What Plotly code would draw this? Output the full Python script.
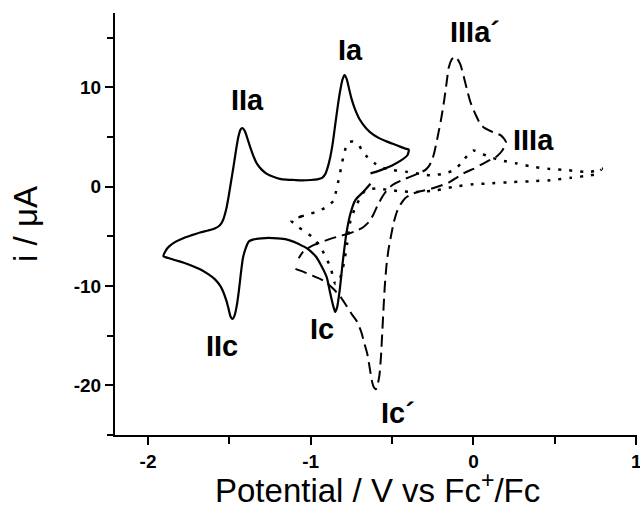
import plotly.graph_objects as go

# Solid CV (sweep starts at -0.63 V going negative)
solid_x = [-0.633, -0.676, -0.726, -0.756, -0.781, -0.802, -0.822, -0.839, -0.850, -0.862, -0.882, -0.900,
           -0.915, -0.940, -0.965, -1.000, -1.028, -1.070, -1.103, -1.150, -1.204, -1.260, -1.304, -1.350,
           -1.380, -1.400, -1.417, -1.430, -1.442, -1.455, -1.467, -1.480, -1.492, -1.505, -1.518, -1.540,
           -1.555, -1.590, -1.630, -1.680, -1.731, -1.780, -1.832, -1.870, -1.905,
           -1.890, -1.870, -1.832, -1.780, -1.731, -1.680, -1.630, -1.590, -1.560, -1.540, -1.520, -1.505,
           -1.490, -1.475, -1.460, -1.445, -1.432, -1.420, -1.405, -1.390, -1.370, -1.350, -1.330, -1.300,
           -1.270, -1.230, -1.190, -1.150, -1.100, -1.053, -1.000, -0.960, -0.930, -0.910, -0.895, -0.880,
           -0.864, -0.850, -0.835, -0.820, -0.805, -0.792, -0.778, -0.765, -0.750, -0.730, -0.700, -0.660,
           -0.620, -0.580, -0.540, -0.500, -0.460, -0.420, -0.398,
           -0.405, -0.450, -0.500, -0.550, -0.600, -0.633]
solid_y = [0.30, -0.50, -1.34, -2.70, -4.70, -7.40, -10.40, -12.20, -12.60, -12.00, -10.60, -9.20,
           -8.60, -7.80, -7.10, -6.50, -6.15, -5.80, -5.55, -5.30, -5.20, -5.15, -5.20, -5.30,
           -5.50, -6.20, -7.20, -8.80, -10.50, -12.00, -12.90, -13.30, -13.10, -12.30, -11.50, -10.50,
           -10.00, -9.30, -8.80, -8.30, -7.95, -7.65, -7.40, -7.20, -7.00,
           -6.40, -6.00, -5.55, -5.15, -4.87, -4.60, -4.40, -4.20, -3.90, -3.40, -2.30, -1.00,
           0.50, 2.00, 3.60, 5.00, 5.75, 5.90, 5.60, 4.90, 3.90, 3.00, 2.30, 1.70,
           1.30, 1.00, 0.80, 0.72, 0.68, 0.65, 0.68, 0.75, 0.90, 1.30, 2.00, 3.00,
           4.50, 6.20, 8.00, 9.60, 10.80, 11.25, 10.80, 9.90, 8.90, 7.90, 6.80, 5.90,
           5.30, 4.90, 4.60, 4.35, 4.10, 3.85, 3.75,
           3.20, 2.60, 2.15, 1.80, 1.50, 1.35]

# Dashed CV
dash_x = [-1.094, -1.040, -0.990, -0.940, -0.900, -0.860, -0.817, -0.780, -0.745, -0.715, -0.690, -0.670,
          -0.653, -0.638, -0.625, -0.612, -0.600, -0.590, -0.578, -0.568, -0.560, -0.552, -0.545, -0.535,
          -0.522, -0.505, -0.490, -0.470, -0.449, -0.420, -0.387, -0.350, -0.305, -0.260, -0.203, -0.150,
          -0.100, -0.050, 0.000, 0.043, 0.090, 0.146, 0.175, 0.193, 0.200,
          0.185, 0.166, 0.120, 0.070, 0.043, 0.015, -0.018, -0.040, -0.060, -0.080, -0.100, -0.117,
          -0.135, -0.152, -0.165, -0.180, -0.200, -0.223, -0.240, -0.254, -0.275, -0.295, -0.330, -0.367,
          -0.420, -0.469, -0.500, -0.530, -0.560, -0.590, -0.615, -0.640, -0.680, -0.730, -0.776, -0.830,
          -0.880, -0.930, -0.980, -1.020, -1.050, -1.074]
dash_y = [-8.27, -8.60, -8.95, -9.30, -9.70, -10.30, -11.10, -12.00, -12.90, -13.60, -14.60, -15.80,
          -16.80, -18.20, -19.50, -20.20, -20.40, -20.00, -19.00, -17.00, -14.50, -12.00, -10.00, -8.00,
          -6.30, -4.80, -3.60, -2.50, -1.80, -1.15, -0.80, -0.55, -0.38, -0.20, 0.10, 0.45,
          0.95, 1.45, 1.80, 2.20, 2.60, 3.10, 3.60, 4.10, 4.50,
          4.90, 5.20, 5.50, 5.90, 6.30, 7.20, 8.50, 9.80, 11.10, 12.30, 12.90, 13.10,
          12.80, 12.00, 10.50, 8.70, 6.70, 4.80, 3.50, 2.70, 2.05, 1.70, 1.40, 1.15,
          0.80, 0.45, 0.15, -0.30, -1.00, -1.90, -2.80, -3.50, -4.10, -4.50, -4.75, -5.00,
          -5.25, -5.55, -5.85, -6.20, -6.60, -7.20]

# Dotted CV
dot_x = [-1.120, -1.060, -1.000, -0.960, -0.900, -0.860, -0.845, -0.830, -0.815, -0.800, -0.785, -0.766,
         -0.740, -0.705, -0.680, -0.653, -0.610, -0.572, -0.530, -0.490, -0.408, -0.330, -0.264, -0.190,
         -0.120, -0.080, -0.040, 0.000, 0.040, 0.100, 0.166, 0.268, 0.370, 0.470, 0.576, 0.720, 0.790,
         0.760, 0.720, 0.600, 0.473, 0.350, 0.248, 0.084, 0.000, -0.121, -0.223, -0.346, -0.450, -0.530,
         -0.592, -0.664, -0.715, -0.756, -0.776, -0.797, -0.820, -0.848, -0.879, -0.940, -0.990, -1.075,
         -1.120]
dot_y = [-3.40, -3.00, -2.70, -2.50, -2.00, -1.40, -0.50, 0.60, 1.80, 3.00, 3.90, 4.50,
         4.55, 4.20, 3.50, 3.00, 2.40, 2.00, 1.80, 1.67, 1.50, 1.30, 1.16, 1.30,
         1.67, 2.30, 3.10, 3.65, 3.40, 3.00, 2.68, 2.34, 2.00, 1.80, 1.67, 1.50, 1.84,
         1.30, 1.16, 0.90, 0.66, 0.55, 0.48, 0.32, 0.25, 0.00, -0.35, -0.52, -0.45, -0.30,
         -0.18, -0.35, -1.70, -3.40, -5.70, -7.76, -9.20, -9.80, -8.10, -6.08, -5.07, -4.06,
         -3.40]

# Peak labels
label_text = ["IIa", "Ia", "IIIa´", "IIIa", "IIc", "Ic", "Ic´"]
label_x = [-1.391, -0.756, 0.010, 0.371, -1.545, -0.930, -0.465]
label_y = [8.74, 13.8, 15.6, 4.7, -16.0, -14.3, -22.75]

x_title = "Potential / V vs Fc<sup>+</sup>/Fc"
y_title = "i / μA"

fig = go.Figure()
fig.add_trace(go.Scatter(x=solid_x, y=solid_y, mode="lines",
                         line=dict(color="black", width=2.2, shape="spline", smoothing=0.6)))
fig.add_trace(go.Scatter(x=dash_x, y=dash_y, mode="lines",
                         line=dict(color="black", width=2, dash="12px,6px", shape="spline", smoothing=0.6)))
fig.add_trace(go.Scatter(x=dot_x, y=dot_y, mode="lines",
                         line=dict(color="black", width=2.5, dash="3px,8px", shape="spline", smoothing=0.6)))

for t, lx, ly in zip(label_text, label_x, label_y):
    fig.add_annotation(x=lx, y=ly, xref="x", yref="y", text="<b>%s</b>" % t, showarrow=False,
                       font=dict(family="Liberation Sans, Arial", size=29, color="black"))

# x-axis title placed as a paper annotation for exact vertical position
fig.add_annotation(x=0.502, y=-0.126, xref="paper", yref="paper", text=x_title, showarrow=False,
                   xanchor="center", yanchor="middle",
                   font=dict(family="Liberation Sans, Arial", size=33, color="black"))

axis_common = dict(showline=True, linecolor="black", linewidth=2, ticks="outside", ticklen=8,
                   tickwidth=2, tickcolor="black", showgrid=False, zeroline=False, mirror=False,
                   ticklabeloverflow="allow", automargin=False,
                   tickfont=dict(family="Liberation Sans, Arial", size=19, color="black", weight="bold"))

fig.update_layout(
    width=640, height=520,
    margin=dict(l=115, r=3, t=13, b=85),
    plot_bgcolor="white", paper_bgcolor="white",
    showlegend=False,
    xaxis=dict(range=[-2.203, 1.005], tickmode="array", tickvals=[-2, -1, 0, 1],
               ticktext=["-2", "-1", "0", "1"],
               minor=dict(dtick=0.5, ticks="outside", ticklen=7, tickwidth=2, tickcolor="black"),
               **axis_common),
    yaxis=dict(range=[-25, 17.5], tickmode="array", tickvals=[-20, -10, 0, 10],
               ticktext=["-20", "-10", "0", "10"],
               minor=dict(dtick=5, ticks="outside", ticklen=6, tickwidth=2, tickcolor="black"),
               title=dict(text=y_title, standoff=26,
                          font=dict(family="Liberation Sans, Arial", size=33, color="black")),
               **axis_common),
)

fig.write_html("out.html")
